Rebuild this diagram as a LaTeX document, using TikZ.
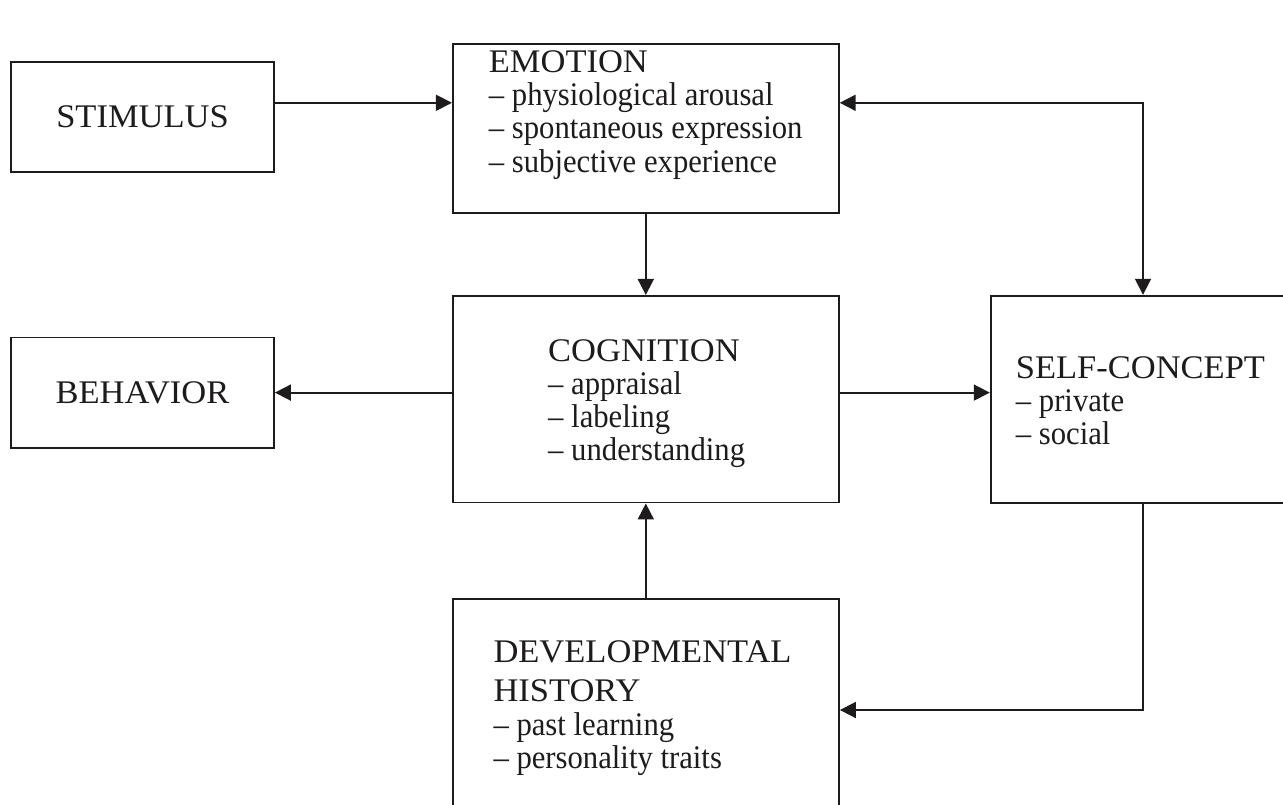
\documentclass[tikz,border=0pt]{standalone}
\usepackage{fontspec}
\setmainfont{Liberation Serif}
\newfontfamily\capf[FakeStretch=1.045]{Liberation Serif}
\newfontfamily\lowf[FakeStretch=0.93]{Liberation Serif}
\usetikzlibrary{arrows.meta}
\newcommand\HeadTxt[1]{{\capf #1}}
\newcommand\SubTxt[1]{{\lowf #1}}
\definecolor{ink}{RGB}{30,27,28}
\begin{document}
\begin{tikzpicture}[x=1pt,y=-1pt,
  box/.style={draw=ink,line width=1.8pt,rectangle,inner sep=0pt,text=ink},
  txt/.style={anchor=base west,inner sep=0pt,text=ink},
  arr/.style={draw=ink,line width=1.8pt,-{Triangle[length=16pt,width=16pt]}},
  darr/.style={draw=ink,line width=1.8pt,{Triangle[length=16pt,width=16pt]}-{Triangle[length=16pt,width=16pt]}},
  font=\fontsize{33}{33.3}\selectfont]
\useasboundingbox (0,0) rectangle (1283,804);
\clip (0,0) rectangle (1283,804);
% boxes
\node[box,minimum width=263pt,minimum height=110.6pt] (stim) at (142.5,117) {\HeadTxt{STIMULUS}};
\node[box,minimum width=263pt,minimum height=110.2pt] (beh) at (142.5,392.6) {\HeadTxt{BEHAVIOR}};
\node[box,minimum width=386pt,minimum height=169pt] (emo) at (645.8,128.5) {};
\node[box,minimum width=386pt,minimum height=206.7pt] (cog) at (645.8,399.2) {};
\node[box,minimum width=304.6pt,minimum height=207pt] (self) at (1143,399.2) {};
\node[box,minimum width=386.4pt,minimum height=221.4pt] (dev) at (645.8,710) {};
% texts
\node[txt] (emot) at (488.7,72.3) {\begin{tabular}[t]{@{}l@{}}\HeadTxt{EMOTION}\\ \SubTxt{– physiological arousal}\\ \SubTxt{– spontaneous expression}\\ \SubTxt{– subjective experience}\end{tabular}};
\node[txt] (cogt) at (548,361) {\begin{tabular}[t]{@{}l@{}}\HeadTxt{COGNITION}\\ \SubTxt{– appraisal}\\ \SubTxt{– labeling}\\ \SubTxt{– understanding}\end{tabular}};
\node[txt] (selft) at (1015.7,378.3) {\begin{tabular}[t]{@{}l@{}}\HeadTxt{SELF-CONCEPT}\\ \SubTxt{– private}\\ \SubTxt{– social}\end{tabular}};
\node[txt] (devt) at (493.3,662.7) {\begin{tabular}[t]{@{}l@{}}\HeadTxt{DEVELOPMENTAL}\\[5.7pt] \HeadTxt{HISTORY}\\ \SubTxt{– past learning}\\ \SubTxt{– personality traits}\end{tabular}};
% connectors
\coordinate (y1) at (0,102.8);
\draw[arr] (stim.east |- y1) -- (emo.west |- y1);
\draw[darr] (emo.east |- y1) -| (self.north);
\draw[arr] (emo.south) -- (cog.north);
\draw[arr] (cog.west |- beh.east) -- (beh.east);
\draw[arr] (cog.east |- beh.east) -- (self.west |- beh.east);
\draw[arr] (self.south) |- (dev.east);
\draw[arr] (dev.north) -- (cog.south);
\end{tikzpicture}
\end{document}
